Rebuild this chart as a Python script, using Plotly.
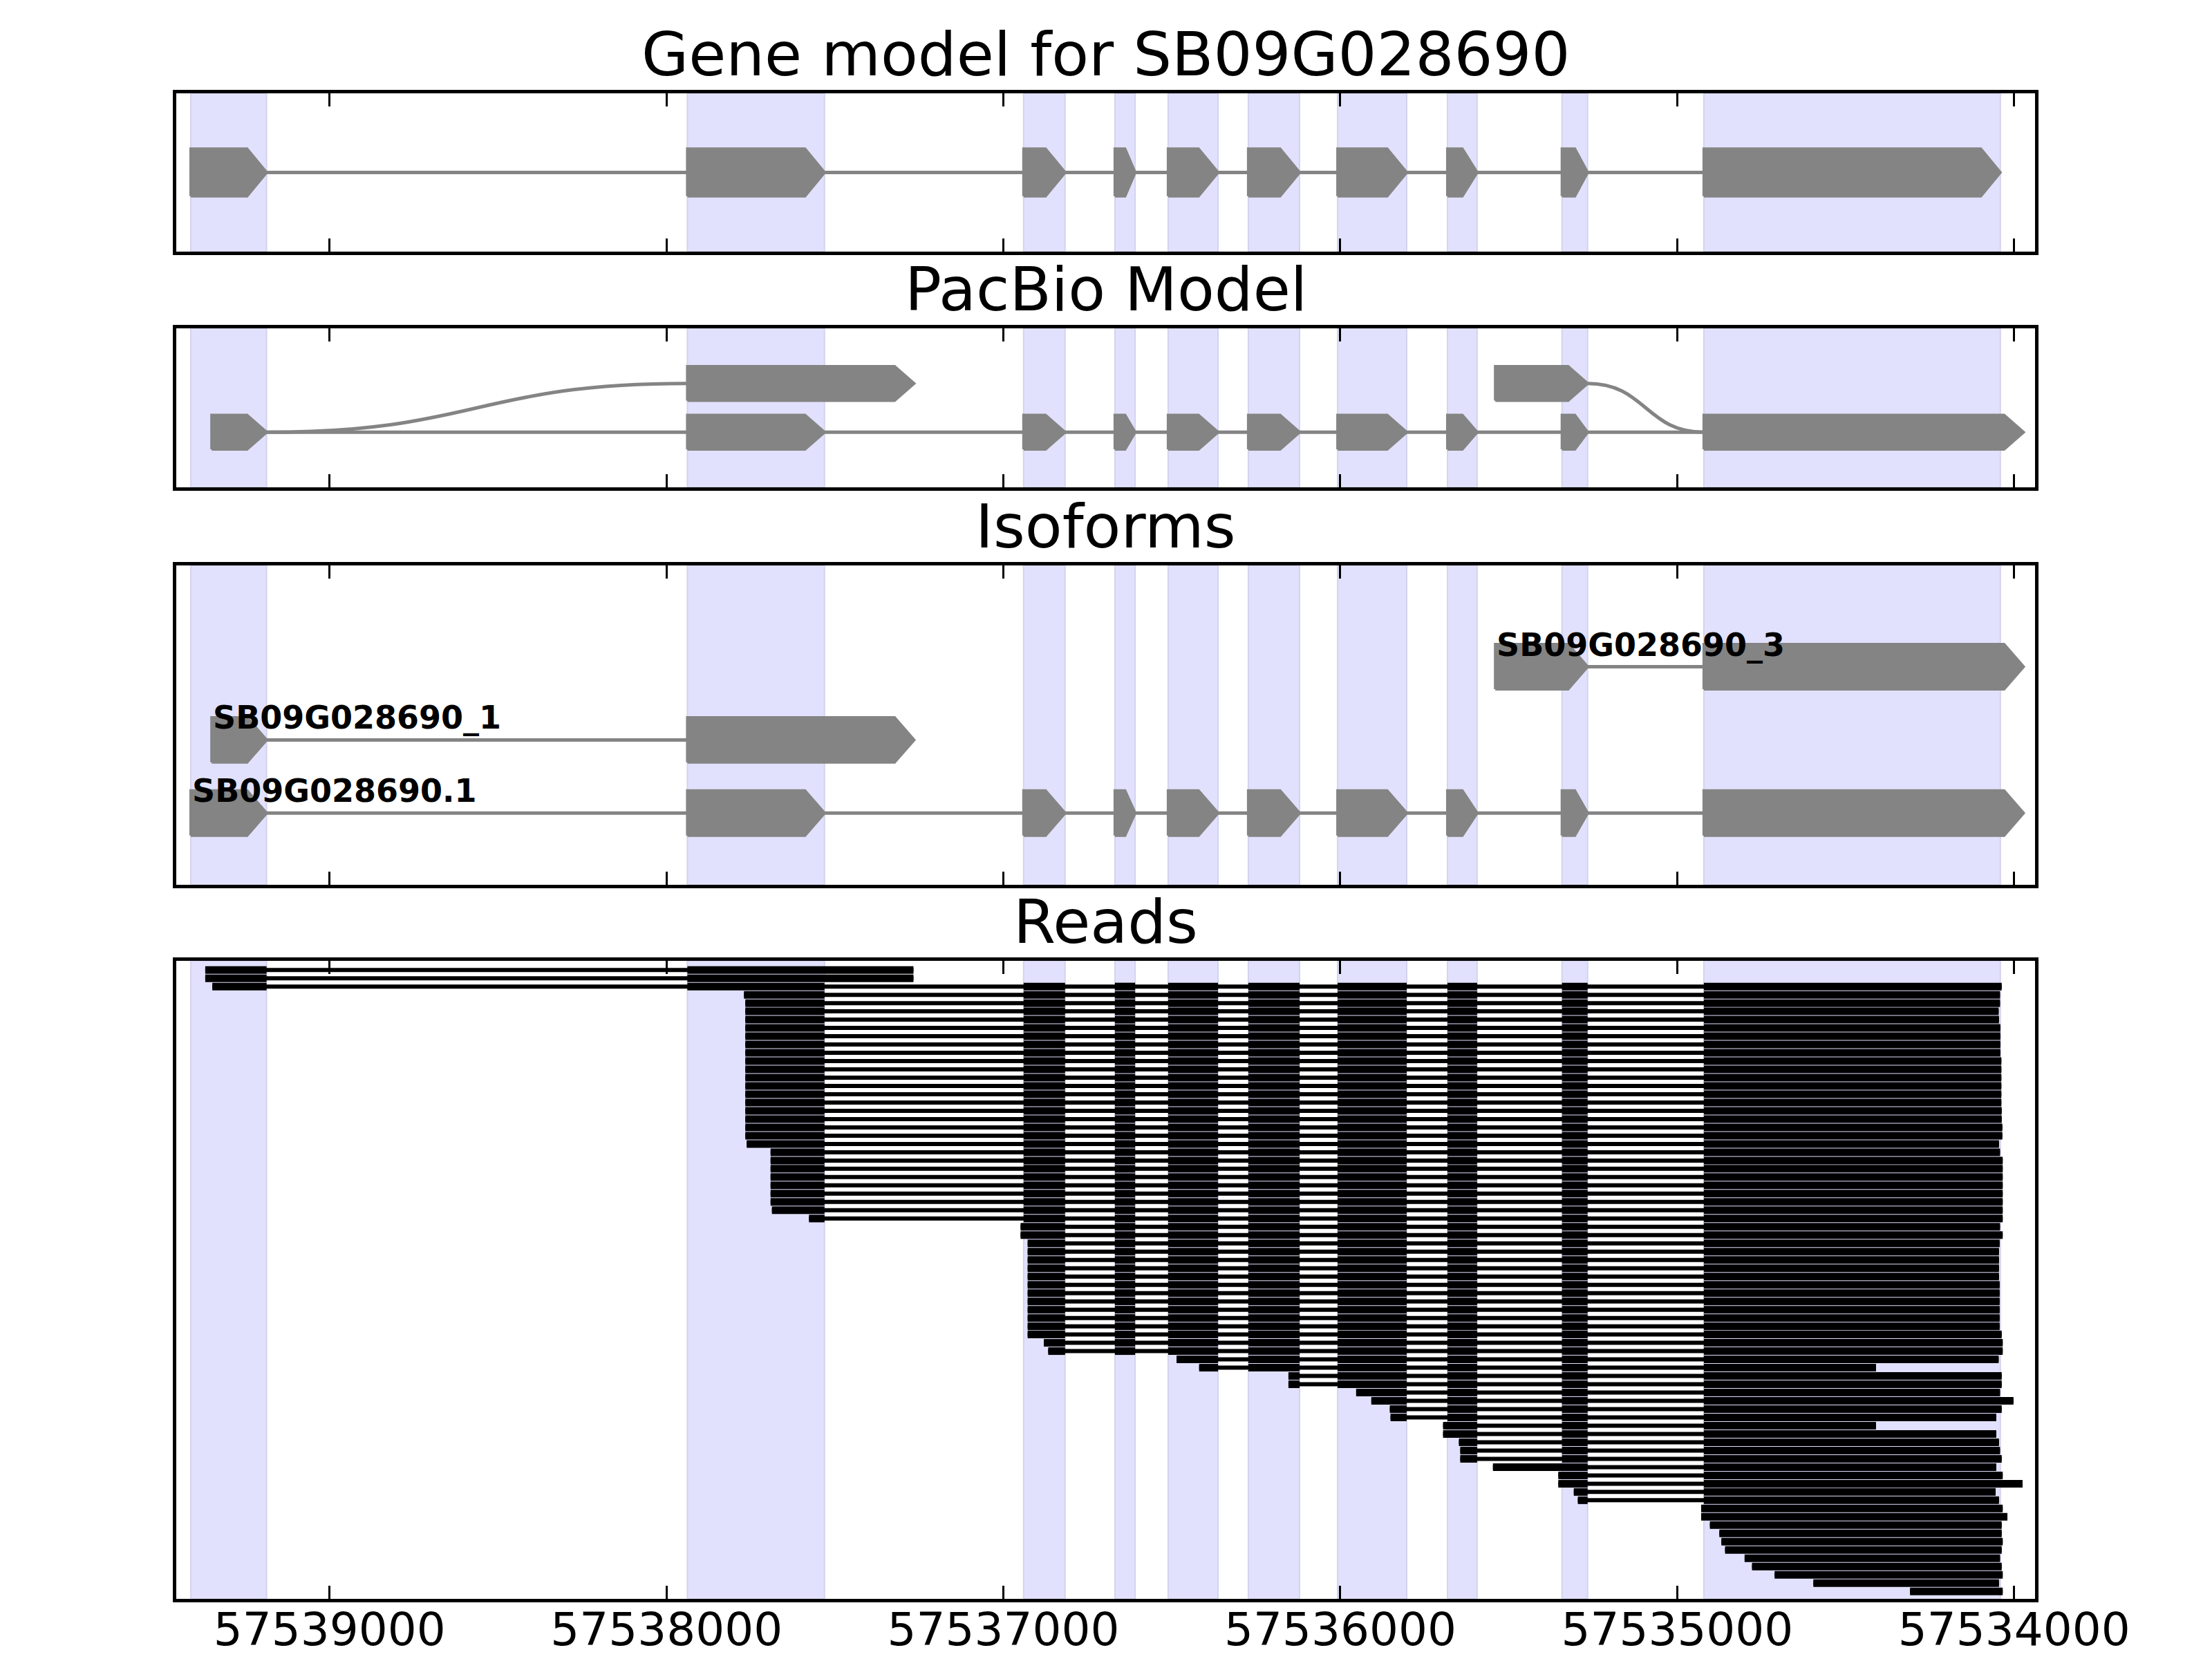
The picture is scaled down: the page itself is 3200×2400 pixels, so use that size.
import plotly.graph_objects as go

# genomic axis (bp); the gene sits on the minus strand so the axis runs high -> low
x_range = [57539455, 57533938]
tick_vals = [57539000, 57538000, 57537000, 57536000, 57535000, 57534000]

# exons of the gene model (left = higher coordinate); also the shaded bands
exon_left = [57539412, 57537938, 57536940, 57536669, 57536511,
             57536273, 57536008, 57535682, 57535342, 57534921]
exon_right = [57539187, 57537531, 57536817, 57536609, 57536363,
              57536121, 57535803, 57535594, 57535266, 57534041]

# alternative exon ends seen in the PacBio data
alt_first_left = 57539350      # later start of exon 1
alt_exon2_right = 57537265     # exon 2 retained / extended
alt_exon9_left = 57535540      # exon 9 extended upstream
alt_last_right = 57533972      # longer last exon

iso_names = ["SB09G028690.1", "SB09G028690_1", "SB09G028690_3"]

# reads, top to bottom: left end, right end, transcript path
read_left = (
    [57539369, 57539369, 57539348, 57537770] + [57537766] * 17 + [57537762]
    + [57537691] * 7 + [57537687, 57537577] + [57536949] * 2 + [57536928] * 12
    + [57536880, 57536867, 57536486, 57536419] + [57536154] * 2
    + [57535953, 57535908, 57535853, 57535851] + [57535695] * 2
    + [57535648] + [57535644] * 2 + [57535547] + [57535353] * 2
    + [57535307, 57535295] + [57534929] * 2
    + [57534903, 57534875, 57534869, 57534858, 57534800, 57534778,
       57534711, 57534596, 57534309]
)
read_right = (
    [57537267, 57537267, 57534037, 57534042, 57534042, 57534046, 57534045]
    + [57534041] * 4 + [57534038] * 6 + [57534037] * 2 + [57534035] * 2
    + [57534045, 57534042] + [57534034] * 8 + [57534042, 57534034, 57534043]
    + [57534045] * 4 + [57534043] * 6 + [57534037] + [57534034] * 2
    + [57534046, 57534410, 57534037, 57534037, 57534042, 57534002, 57534037,
       57534053, 57534410, 57534053, 57534045, 57534042, 57534037, 57534053,
       57534034, 57533975, 57534055, 57534045, 57534034, 57534020, 57534037,
       57534037, 57534034, 57534037, 57534042, 57534037, 57534034, 57534045,
       57534034]
)
read_path = ["_1", "_1"] + ["full"] * 58 + ["_3"] + ["full"] * 15

GREY = "#848484"
BAND = "#E1E1FD"
TIP_BP = 58
FONT = "DejaVu Sans"

gene = list(zip(exon_left, exon_right))
paths = {
    "full": gene,
    "_1": [(alt_first_left, exon_right[0]), (exon_left[1], alt_exon2_right)],
    "_3": [(alt_exon9_left, exon_right[8]), (exon_left[9], alt_last_right)],
}
iso_rows = [
    gene[:-1] + [(exon_left[9], alt_last_right)],
    paths["_1"],
    paths["_3"],
]
pac_lower = [(alt_first_left, exon_right[0])] + gene[1:-1] + [(exon_left[9], alt_last_right)]
pac_upper = [(exon_left[1], alt_exon2_right), (alt_exon9_left, exon_right[8])]


def arrows(exons, y, h):
    xs, ys = [], []
    for a, b in exons:
        tip = min(TIP_BP, (a - b) / 2)
        xs += [a, b + tip, b, b + tip, a, a, None]
        ys += [y - h, y - h, y, y + h, y + h, y - h, None]
    return xs, ys


fig = go.Figure()

# page has an 8px body margin, so the figure is drawn 16px smaller and
# offset by that margin; pixel positions below are page positions
PAD = 8
W, H = 3200 - 2 * PAD, 2400 - 2 * PAD
ML, MR, MT, MB = 255 - PAD, 256 - PAD, 135 - PAD, 87 - PAD
panels = [(135, 364), (475, 705), (818, 1280), (1390, 2313)]
y_ranges = [[-1, 1], [-1.13, 2.13], [-0.98, 3.384], [75.9, -1.1]]
titles = ["Gene model for SB09G028690", "PacBio Model", "Isoforms", "Reads"]
plot_h = H - MT - MB


def dom(top, bot):
    top, bot = top - PAD, bot - PAD
    return [(H - MB - bot) / plot_h, (H - MB - top) / plot_h]


def add_transcript(exons, y, h, ax, line=True):
    xs, ys = arrows(exons, y, h)
    if line:
        fig.add_trace(go.Scatter(x=[exons[0][0], exons[-1][1]], y=[y, y], mode="lines",
                                 line=dict(color=GREY, width=5), xaxis="x" + ax, yaxis="y" + ax,
                                 hoverinfo="skip", showlegend=False))
    fig.add_trace(go.Scatter(x=xs, y=ys, mode="lines", fill="toself", fillcolor=GREY,
                             line=dict(color=GREY, width=4), xaxis="x" + ax, yaxis="y" + ax,
                             hoverinfo="skip", showlegend=False))


# panel 1: gene model
add_transcript(gene, 0, 0.3, "")

# panel 2: PacBio model, two levels joined by curves
add_transcript(pac_lower, 0, 0.35, "2")
add_transcript(pac_upper, 1, 0.35, "2", line=False)
links = [((alt_first_left, exon_right[0]), (exon_left[1], alt_exon2_right), 0, 1),
         ((alt_exon9_left, exon_right[8]), (exon_left[9], alt_last_right), 1, 0)]
for src, dst, y0, y1 in links:
    x0, x1 = src[1], dst[0]
    xm = (x0 + x1) / 2
    fig.add_shape(type="path", xref="x2", yref="y2",
                  path=f"M {x0},{y0} C {xm},{y0} {xm},{y1} {x1},{y1}",
                  line=dict(color=GREY, width=5))

# panel 3: isoforms with labels
for k, (name, exons) in enumerate(zip(iso_names, iso_rows)):
    add_transcript(exons, k, 0.306, "3")
    fig.add_annotation(x=exons[0][0], y=k, xref="x3", yref="y3", text=name,
                       showarrow=False, xanchor="left", yanchor="bottom", yshift=3,
                       font=dict(family=FONT, size=46, color="black", weight="bold"))

# panel 4: reads
ix, iy, bx, by = [], [], [], []
for i, (lo, hi, p) in enumerate(zip(read_left, read_right, read_path)):
    ix += [lo, hi, None]
    iy += [i, i, None]
    blocks = [(a, b) for a, b in paths[p] if b < lo and a > hi]
    blocks[0] = (lo, blocks[0][1])
    blocks[-1] = (blocks[-1][0], hi)
    for a, b in blocks:
        bx += [a, b, None]
        by += [i, i, None]
fig.add_trace(go.Scatter(x=ix, y=iy, mode="lines", line=dict(color="black", width=6),
                         xaxis="x4", yaxis="y4", hoverinfo="skip", showlegend=False))
fig.add_trace(go.Scatter(x=bx, y=by, mode="lines", line=dict(color="black", width=11),
                         xaxis="x4", yaxis="y4", hoverinfo="skip", showlegend=False))

# shaded exon bands and axes
layout = {}
for n, ((top, bot), yr, title) in enumerate(zip(panels, y_ranges, titles)):
    sfx = "" if n == 0 else str(n + 1)
    for a, b in gene:
        fig.add_shape(type="rect", xref="x" + sfx, yref=f"y{sfx} domain",
                      x0=a, x1=b, y0=0, y1=1, fillcolor=BAND,
                      line=dict(color="#D3D3EE", width=2), layer="below")
    layout["xaxis" + sfx] = dict(
        domain=[0, 1], range=x_range, anchor="y" + sfx, tickvals=tick_vals,
        tickformat="d", showticklabels=(n == 3), ticks="inside", ticklen=19,
        tickwidth=2.5, tickcolor="black", showline=True, linecolor="black",
        linewidth=5, mirror="ticks", showgrid=False, zeroline=False,
        automargin=False, ticklabelstandoff=-17,
        tickfont=dict(family=FONT, size=66, color="black"))
    layout["yaxis" + sfx] = dict(
        domain=dom(top, bot), range=yr, anchor="x" + sfx, showticklabels=False,
        ticks="", showline=True, linecolor="black", linewidth=5, mirror=True,
        showgrid=False, zeroline=False, automargin=False)
    fig.add_annotation(x=0.5, y=dom(top, bot)[1], xref="paper", yref="paper",
                       text=title, showarrow=False, xanchor="center", yanchor="bottom",
                       yshift=3, font=dict(family=FONT, size=88, color="black"))

fig.update_layout(**layout)
fig.update_layout(width=W, height=H, margin=dict(l=ML, r=MR, t=MT, b=MB, autoexpand=False),
                  plot_bgcolor="white", paper_bgcolor="white",
                  font=dict(family=FONT, color="black"), showlegend=False)

fig.write_html("out.html")
